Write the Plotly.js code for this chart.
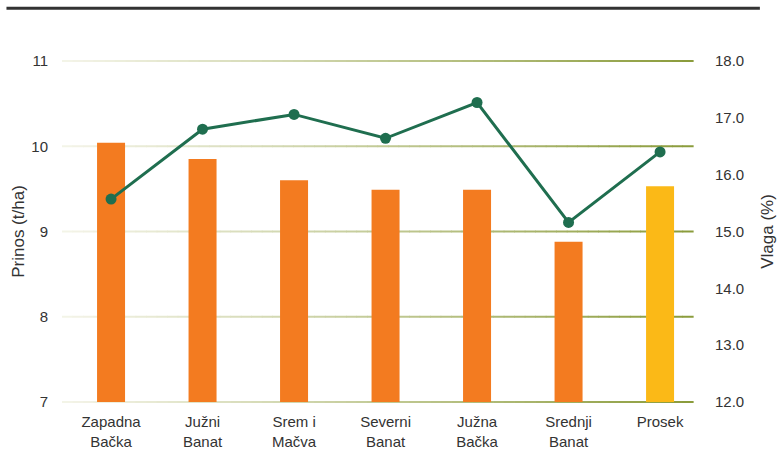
<!DOCTYPE html>
<html>
<head>
<meta charset="utf-8">
<script src="https://cdn.plot.ly/plotly-3.0.1.min.js"></script>
<style>
html,body{margin:0;padding:0;background:#fff;}
#chart{width:779px;height:470px;}
</style>
</head>
<body>
<div id="chart"></div>
<script>
// Data
const categories = ["Zapadna<br>Bačka", "Južni<br>Banat", "Srem i<br>Mačva", "Severni<br>Banat", "Južna<br>Bačka", "Srednji<br>Banat", "Prosek"];
const prinos = [10.04, 9.85, 9.60, 9.49, 9.49, 8.88, 9.53];   // t/ha (left axis)
const vlaga = [15.57, 16.80, 17.06, 16.64, 17.27, 15.16, 16.40]; // % (right axis)
const leftTicks = [7, 8, 9, 10, 11];
const rightTicks = [12, 13, 14, 15, 16, 17, 18];

// Styles
const ORANGE = "#F37B20";
const YELLOW = "#FBB917";
const GREEN = "#1F6E4F";
const TEXT = "#333333";
const barColors = categories.map(c => c === "Prosek" ? YELLOW : ORANGE);
const leftRange = [leftTicks[0], leftTicks[leftTicks.length - 1]];

// gradient gridlines built from the left-axis ticks (paper coords so edge lines are not clipped)
function lerp(a, b, t) { return Math.round(a + (b - a) * t); }
const cA = [244, 244, 232], cB = [138, 155, 58];
const N = 60;
const shapes = [];
leftTicks.forEach(v => {
  const yp = (v - leftRange[0]) / (leftRange[1] - leftRange[0]);
  for (let i = 0; i < N; i++) {
    const t = Math.pow((i + 0.5) / N, 1.1);
    const col = `rgb(${lerp(cA[0], cB[0], t)},${lerp(cA[1], cB[1], t)},${lerp(cA[2], cB[2], t)})`;
    shapes.push({type: "line", xref: "paper", yref: "paper", x0: i / N, x1: (i + 1) / N + 0.001, y0: yp, y1: yp,
      line: {color: col, width: 2}, layer: "below"});
  }
});
// top rule
shapes.push({type: "line", xref: "paper", yref: "paper", x0: -0.088, x1: 1.106, y0: 1.155, y1: 1.155,
  line: {color: "#333333", width: 3}});

const traces = [
  {type: "bar", x: categories, y: prinos, marker: {color: barColors}, yaxis: "y", hoverinfo: "skip"},
  {type: "scatter", mode: "lines+markers", x: categories, y: vlaga, yaxis: "y2",
   line: {color: GREEN, width: 3}, marker: {color: GREEN, size: 11}, hoverinfo: "skip"}
];

const font = {family: "Liberation Sans, Arial, Helvetica, sans-serif", size: 15, color: TEXT};

const layout = {
  width: 779, height: 470,
  margin: {l: 62, r: 86, t: 61, b: 68},
  paper_bgcolor: "#fff", plot_bgcolor: "rgba(0,0,0,0)",
  font: font,
  showlegend: false,
  bargap: 0.694,
  xaxis: {
    type: "category", range: [-0.536, 6.36],
    showgrid: false, zeroline: false, showline: false,
    ticks: "outside", ticklen: 6, tickcolor: "rgba(0,0,0,0)",
    tickfont: {size: 15, color: TEXT}
  },
  yaxis: {
    range: leftRange, tickvals: leftTicks, ticktext: leftTicks.map(String),
    showgrid: false, zeroline: false, showline: false,
    ticks: "outside", ticklen: 10, tickcolor: "rgba(0,0,0,0)",
    tickfont: {size: 15, color: TEXT},
    title: {text: "Prinos (t/ha)", font: {size: 17, color: TEXT}, standoff: 2}
  },
  yaxis2: {
    overlaying: "y", side: "right",
    range: [12, 18], tickvals: rightTicks, ticktext: rightTicks.map(v => v.toFixed(1)),
    showgrid: false, zeroline: false, showline: false,
    ticks: "outside", ticklen: 18, tickcolor: "rgba(0,0,0,0)",
    tickfont: {size: 15, color: TEXT},
    title: {text: "Vlaga (%)", font: {size: 17, color: TEXT}, standoff: 17}
  },
  shapes: shapes
};

Plotly.newPlot("chart", traces, layout, {displayModeBar: false, staticPlot: true});
</script>
</body>
</html>
